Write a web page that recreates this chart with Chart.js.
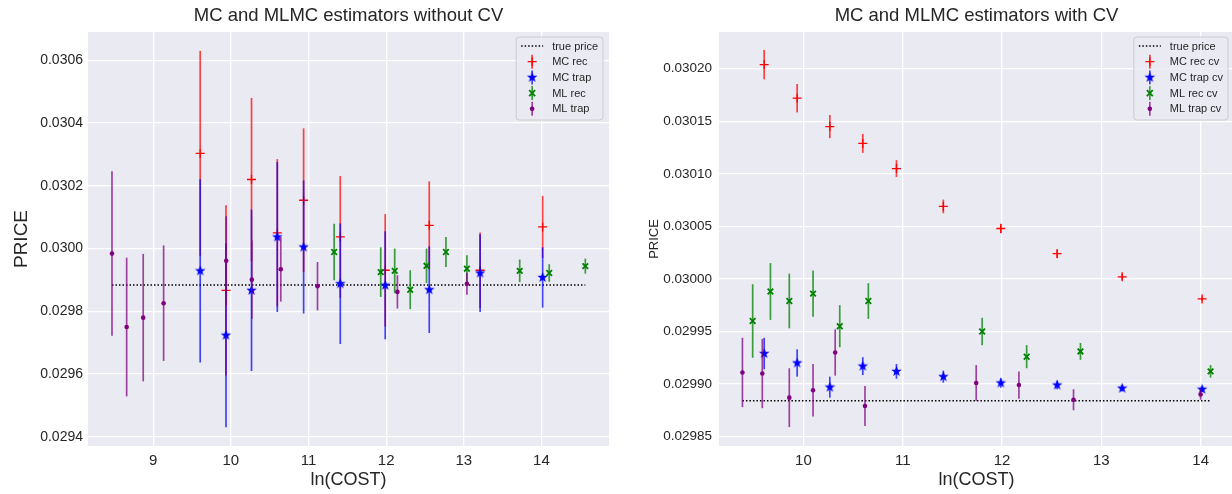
<!DOCTYPE html>
<html>
<head>
<meta charset="utf-8">
<script src="https://cdn.jsdelivr.net/npm/chart.js@4"></script>
<style>
  html, body { margin: 0; padding: 0; background: #fff; overflow: hidden; width: 1232px; height: 494px; }
  canvas { position: absolute; top: 0; }
  #chartLeft { left: 0; }
  #chartRight { left: 620px; }
</style>
</head>
<body>
<canvas id="chartLeft" width="620" height="494"></canvas>
<canvas id="chartRight" width="620" height="494"></canvas>
<script>
// reference price (dotted line)
const truePrice = 0.029884;

// ln(cost) of the plain MC runs (same in both panels)
const mcCost = [9.605, 9.937, 10.266, 10.598, 10.937, 11.409, 11.988, 12.555, 13.21, 14.015];

// --- without control variate ---
const mcRec = [0.030303, 0.029867, 0.030220, 0.030050, 0.030154, 0.030037, 0.029931, 0.030074, 0.029931, 0.030069];
const mcRecErr = [0.000327, 0.000271, 0.000260, 0.000235, 0.000229, 0.000194, 0.000179, 0.000140, 0.000120, 0.000099];
const mcTrap = [0.029929, 0.029724, 0.029867, 0.030037, 0.030005, 0.029888, 0.029883, 0.029869, 0.029922, 0.029908];
const mcTrapErr = [0.000292, 0.000293, 0.000257, 0.000239, 0.000212, 0.000192, 0.000172, 0.000138, 0.000124, 0.000096];
const mlRecCost = [11.33, 11.93, 12.11, 12.31, 12.52, 12.77, 13.04, 13.72, 14.10, 14.565];
const mlRec = [0.029989, 0.029925, 0.029929, 0.029869, 0.029945, 0.029989, 0.029936, 0.029929, 0.029922, 0.029944];
const mlRecErr = [0.000090, 0.000079, 0.000071, 0.000062, 0.000055, 0.000048, 0.000043, 0.000036, 0.000028, 0.000024];
const mlTrapCost = [8.469, 8.658, 8.871, 9.134, 9.94, 10.27, 10.643, 11.116, 12.145, 13.04];
const mlTrap = [0.029984, 0.029750, 0.029780, 0.029826, 0.029961, 0.029901, 0.029934, 0.029880, 0.029862, 0.029888];
const mlTrapErr = [0.000262, 0.000221, 0.000203, 0.000184, 0.000142, 0.000125, 0.000103, 0.000077, 0.000053, 0.000035];

// --- with control variate ---
const mcRecCv = [0.030204, 0.030172, 0.030145, 0.030129, 0.030105, 0.030069, 0.030048, 0.030024, 0.030002, 0.029981];
const mcRecCvErr = [0.000014, 0.0000135, 0.000011, 0.000009, 0.000008, 0.0000065, 0.0000045, 0.000004, 0.000003, 0.000002];
const mcTrapCv = [0.029929, 0.029920, 0.029897, 0.029917, 0.029912, 0.029907, 0.029901, 0.029899, 0.029896, 0.029895];
const mcTrapCvErr = [0.000015, 0.000013, 0.000010, 0.0000085, 0.000007, 0.0000057, 0.0000045, 0.000004, 0.000003, 0.0000025];
const mlRecCvCost = [9.489, 9.668, 9.858, 10.097, 10.366, 10.654, 11.80, 12.248, 12.79, 14.10];
const mlRecCv = [0.029960, 0.029988, 0.029979, 0.029986, 0.029955, 0.029979, 0.029950, 0.029926, 0.029931, 0.029912];
const mlRecCvErr = [0.000035, 0.000027, 0.000026, 0.000022, 0.000020, 0.000017, 0.000013, 0.000011, 0.000008, 0.000006];
const mlTrapCvCost = [9.386, 9.586, 9.858, 10.097, 10.32, 10.62, 11.74, 12.17, 12.72, 14.0];
const mlTrapCv = [0.029911, 0.029910, 0.029887, 0.029894, 0.029930, 0.029879, 0.029901, 0.029899, 0.029885, 0.029890];
const mlTrapCvErr = [0.000033, 0.000033, 0.000028, 0.000025, 0.000022, 0.000019, 0.000017, 0.000013, 0.000010, 0.000005];

// tick labels
const leftXTicks = [9, 10, 11, 12, 13, 14];
const leftYTicks = [0.0294, 0.0296, 0.0298, 0.0300, 0.0302, 0.0304, 0.0306];
const rightXTicks = [10, 11, 12, 13, 14];
const rightYTicks = [0.02985, 0.02990, 0.02995, 0.03000, 0.03005, 0.03010, 0.03015, 0.03020];

const FONT = '"Liberation Sans", Arial, sans-serif';
const TEXT = '#262626';

// filled five-point star, used as the '*' marker
const makeStar = (color, r) => {
  const c = document.createElement('canvas');
  const s = Math.ceil(r * 2 + 2);
  c.width = c.height = s;
  const g = c.getContext('2d');
  g.fillStyle = color;
  g.beginPath();
  for (let k = 0; k < 10; k++) {
    const rad = k % 2 ? r * 0.42 : r;
    const a = -Math.PI / 2 + k * Math.PI / 5;
    g.lineTo(s / 2 + rad * Math.cos(a), s / 2 + rad * Math.sin(a));
  }
  g.closePath();
  g.fill();
  return c;
};
const blueStar = makeStar('#0000ff', 5.5);

const toPoints = (xs, ys) => xs.map((x, i) => ({ x: x, y: ys[i] }));

// series look, shared by both panels
const styles = [
  { color: '#ff0000', bar: 'rgba(255,0,0,0.72)', pointStyle: 'cross', radius: 4.5, borderWidth: 1.3 },
  { color: '#0000ff', bar: 'rgba(0,0,255,0.72)', pointStyle: blueStar, radius: 5, borderWidth: 1 },
  { color: '#008000', bar: 'rgba(0,128,0,0.75)', pointStyle: 'crossRot', radius: 4, borderWidth: 1.8 },
  { color: '#800080', bar: 'rgba(128,0,128,0.72)', pointStyle: 'circle', radius: 2.3, borderWidth: 0 }
];

// vertical error bars, drawn right before each series' markers
const errorBars = {
  id: 'errorBars',
  beforeDatasetDraw(chart, args) {
    const ds = chart.data.datasets[args.index];
    if (!ds.errors) return;
    const { ctx, scales: { x, y } } = chart;
    ctx.save();
    ctx.strokeStyle = ds.barColor;
    ctx.lineWidth = 1.7;
    ds.data.forEach((p, i) => {
      const px = x.getPixelForValue(p.x);
      ctx.beginPath();
      ctx.moveTo(px, y.getPixelForValue(p.y - ds.errors[i]));
      ctx.lineTo(px, y.getPixelForValue(p.y + ds.errors[i]));
      ctx.stroke();
    });
    ctx.restore();
  }
};

// seaborn-like axes background
const axesBg = {
  id: 'axesBg',
  beforeDraw(chart) {
    const { ctx, chartArea: a } = chart;
    ctx.save();
    ctx.fillStyle = '#eaeaf2';
    ctx.fillRect(a.left, a.top, a.right - a.left, a.bottom - a.top);
    ctx.restore();
  }
};

const drawMarker = (ctx, st, x, y) => {
  ctx.save();
  ctx.strokeStyle = st.color;
  ctx.fillStyle = st.color;
  ctx.lineWidth = st.borderWidth;
  const r = st.radius;
  if (st.pointStyle === 'cross') {
    ctx.beginPath();
    ctx.moveTo(x - r, y); ctx.lineTo(x + r, y);
    ctx.moveTo(x, y - r); ctx.lineTo(x, y + r);
    ctx.stroke();
  } else if (st.pointStyle === 'crossRot') {
    const d = r * 0.75;
    ctx.beginPath();
    ctx.moveTo(x - d, y - d); ctx.lineTo(x + d, y + d);
    ctx.moveTo(x - d, y + d); ctx.lineTo(x + d, y - d);
    ctx.stroke();
  } else if (st.pointStyle === 'circle') {
    ctx.beginPath();
    ctx.arc(x, y, r, 0, Math.PI * 2);
    ctx.fill();
  } else {
    ctx.drawImage(st.pointStyle, x - st.pointStyle.width / 2, y - st.pointStyle.height / 2);
  }
  ctx.restore();
};

// matplotlib style legend in the upper right corner
const cornerLegend = {
  id: 'cornerLegend',
  afterDatasetsDraw(chart) {
    const { ctx, chartArea: a } = chart;
    const labels = chart.options.plugins.cornerLegend.labels;
    ctx.save();
    ctx.font = '11px ' + FONT;
    const textW = Math.max(...labels.map(l => ctx.measureText(l).width));
    const w = 5 + 22 + 9 + textW + 5;
    const h = 83;
    const left = a.right - 6 - w;
    const top = a.top + 5;
    ctx.beginPath();
    ctx.roundRect(left, top, w, h, 3);
    ctx.fillStyle = 'rgba(234,234,242,0.8)';
    ctx.fill();
    ctx.strokeStyle = '#cccccc';
    ctx.lineWidth = 1;
    ctx.stroke();
    labels.forEach((label, i) => {
      const cy = top + 9 + i * 15.7;
      const hx = left + 5;
      if (i === 0) {
        ctx.save();
        ctx.strokeStyle = '#000';
        ctx.lineWidth = 1.5;
        ctx.setLineDash([1.5, 2]);
        ctx.beginPath();
        ctx.moveTo(hx, cy); ctx.lineTo(hx + 22, cy);
        ctx.stroke();
        ctx.restore();
      } else {
        const st = styles[i - 1];
        ctx.save();
        ctx.strokeStyle = st.bar;
        ctx.lineWidth = 1.7;
        ctx.beginPath();
        ctx.moveTo(hx + 11, cy - 7); ctx.lineTo(hx + 11, cy + 7);
        ctx.stroke();
        ctx.restore();
        drawMarker(ctx, st, hx + 11, cy);
      }
      ctx.fillStyle = TEXT;
      ctx.textBaseline = 'middle';
      ctx.textAlign = 'left';
      ctx.fillText(label, hx + 22 + 9, cy + 0.5);
    });
    ctx.restore();
  }
};

const makeSeries = (label, xs, ys, errs, st, order) => ({
  label: label,
  data: toPoints(xs, ys),
  errors: errs,
  barColor: st.bar,
  pointStyle: st.pointStyle,
  pointRadius: st.radius,
  pointHoverRadius: st.radius,
  pointBorderWidth: st.borderWidth,
  pointBorderColor: st.color,
  pointBackgroundColor: st.color,
  showLine: false,
  order: order
});

const makePanel = (canvasId, p) => {
  const allX = [].concat(...p.series.map(s => s.xs));
  const lineX = [Math.min(...allX), Math.max(...allX)];
  const datasets = [{
    label: 'true price',
    data: lineX.map(x => ({ x: x, y: truePrice })),
    showLine: true,
    borderColor: '#000',
    borderWidth: 1.5,
    borderDash: [1.5, 2],
    pointRadius: 0,
    order: 5
  }].concat(p.series.map((s, i) => makeSeries(s.label, s.xs, s.ys, s.errs, styles[i], 4 - i)));

  return new Chart(document.getElementById(canvasId), {
    type: 'scatter',
    data: { datasets: datasets },
    plugins: [axesBg, errorBars, cornerLegend],
    options: {
      responsive: false,
      animation: false,
      events: [],
      layout: { padding: { left: 0, right: p.padRight, top: 0, bottom: 0 } },
      plugins: {
        legend: { display: false },
        tooltip: { enabled: false },
        title: {
          display: true,
          text: p.title,
          fullSize: false,
          color: TEXT,
          font: { family: FONT, size: 18.5, weight: 'normal' },
          padding: { top: 5, bottom: 4.8 }
        },
        cornerLegend: { labels: ['true price'].concat(p.series.map(s => s.label)) }
      },
      scales: {
        x: {
          type: 'linear',
          min: p.xMin,
          max: p.xMax,
          afterBuildTicks: s => { s.ticks = p.xTicks.map(v => ({ value: v })); },
          afterFit: s => { s.height = 48; },
          grid: { color: '#ffffff', lineWidth: 1.3, drawTicks: false },
          border: { display: false },
          ticks: {
            color: TEXT, padding: 6, maxRotation: 0, autoSkip: false,
            font: { family: FONT, size: p.xTickSize },
            callback: v => String(v)
          },
          title: {
            display: true, text: 'ln(COST)', color: TEXT,
            font: { family: FONT, size: 18 },
            padding: { top: 0, bottom: 3 }
          }
        },
        y: {
          type: 'linear',
          min: p.yMin,
          max: p.yMax,
          afterBuildTicks: s => { s.ticks = p.yTicks.map(v => ({ value: v })); },
          afterFit: s => { s.width = p.yAxisWidth; },
          grid: { color: '#ffffff', lineWidth: 1.3, drawTicks: false },
          border: { display: false },
          ticks: {
            color: TEXT, padding: p.yTickPad, autoSkip: false,
            font: { family: FONT, size: p.yTickSize },
            callback: v => v.toFixed(p.yDigits)
          },
          title: {
            display: true, text: 'PRICE', color: TEXT,
            font: { family: FONT, size: p.yTitleSize },
            padding: { top: p.yTitlePad, bottom: 0 }
          }
        }
      }
    }
  });
};

makePanel('chartLeft', {
  title: 'MC and MLMC estimators without CV',
  series: [
    { label: 'MC rec', xs: mcCost, ys: mcRec, errs: mcRecErr },
    { label: 'MC trap', xs: mcCost, ys: mcTrap, errs: mcTrapErr },
    { label: 'ML rec', xs: mlRecCost, ys: mlRec, errs: mlRecErr },
    { label: 'ML trap', xs: mlTrapCost, ys: mlTrap, errs: mlTrapErr }
  ],
  xMin: 8.16, xMax: 14.87, yMin: 0.029371, yMax: 0.03069,
  xTicks: leftXTicks, yTicks: leftYTicks, yDigits: 4,
  padRight: 11, yAxisWidth: 88, yTickPad: 5, yTickSize: 14, xTickSize: 15,
  yTitleSize: 19, yTitlePad: 10
});

makePanel('chartRight', {
  title: 'MC and MLMC estimators with CV',
  series: [
    { label: 'MC rec cv', xs: mcCost, ys: mcRecCv, errs: mcRecCvErr },
    { label: 'MC trap cv', xs: mcCost, ys: mcTrapCv, errs: mcTrapCvErr },
    { label: 'ML rec cv', xs: mlRecCvCost, ys: mlRecCv, errs: mlRecCvErr },
    { label: 'ML trap cv', xs: mlTrapCvCost, ys: mlTrapCv, errs: mlTrapCvErr }
  ],
  xMin: 9.15, xMax: 14.336, yMin: 0.029841, yMax: 0.030235,
  xTicks: rightXTicks, yTicks: rightYTicks, yDigits: 5,
  padRight: 0, yAxisWidth: 99, yTickPad: 7, yTickSize: 13.5, xTickSize: 15,
  yTitleSize: 13, yTitlePad: 27
});
</script>
</body>
</html>
